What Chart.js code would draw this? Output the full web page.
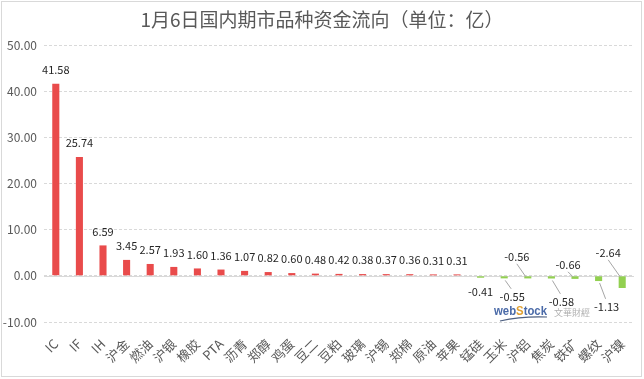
<!DOCTYPE html>
<html>
<head>
<meta charset="utf-8">
<script src="https://cdn.jsdelivr.net/npm/chart.js@4/dist/chart.umd.min.js"></script>
<style>
  html, body { margin: 0; padding: 0; background: #fff; }
  #wrap { width: 644px; height: 379px; position: relative; }
</style>
</head>
<body>
<div id="wrap"><canvas id="c" width="644" height="379"></canvas></div>
<script>
// ---- data ----
const titleText = '1月6日国内期市品种资金流向（单位：亿）';
const categories = ['IC','IF','IH','沪金','燃油','沪银','橡胶','PTA','沥青','郑醇','鸡蛋','豆二','豆粕','玻璃','沪锡','郑棉','原油','苹果','锰硅','玉米','沪铝','焦炭','铁矿','螺纹','沪镍'];
const values = [41.58,25.74,6.59,3.45,2.57,1.93,1.60,1.36,1.07,0.82,0.60,0.48,0.42,0.38,0.37,0.36,0.31,0.31,-0.41,-0.55,-0.56,-0.58,-0.66,-1.13,-2.64];
const yMin = -10, yMax = 50, yStep = 10;

// ---- style ----
const FONT = '"Noto Sans CJK SC", "Microsoft YaHei", sans-serif';
const RED = '#E94B4B', GREEN = '#92D050';
// placement of negative-value labels relative to the zero line (style only)
const negPlacement = {
  18: {dx: 0,   dy: 16,  leader: false},
  19: {dx: 8,   dy: 21,  leader: true},
  20: {dx: -11, dy: -19, leader: true},
  21: {dx: 10,  dy: 26,  leader: true},
  22: {dx: -7,  dy: -11, leader: true},
  23: {dx: 8,   dy: 31,  leader: true},
  24: {dx: -14, dy: -23, leader: true}
};

const framePlugin = {
  id: 'frame',
  beforeDraw(chart) {
    const ctx = chart.ctx;
    ctx.save();
    ctx.fillStyle = '#fff';
    ctx.fillRect(0, 0, chart.width, chart.height);
    ctx.strokeStyle = '#d9d9d9';
    ctx.lineWidth = 1;
    ctx.strokeRect(1.5, 1.5, 640, 375);
    ctx.fillStyle = '#595959';
    ctx.font = '19px ' + FONT;
    ctx.textAlign = 'center';
    ctx.textBaseline = 'middle';
    ctx.fillText(titleText, 322, 20);
    ctx.restore();
  },
  beforeDatasetsDraw(chart) {
    const ctx = chart.ctx, a = chart.chartArea;
    const y0 = Math.round(chart.scales.y.getPixelForValue(0)) + 0.5;
    ctx.save();
    ctx.strokeStyle = '#d9d9d9';
    ctx.lineWidth = 1;
    ctx.beginPath();
    ctx.moveTo(a.left, y0);
    ctx.lineTo(a.right, y0);
    ctx.stroke();
    // watermark
    ctx.textBaseline = 'alphabetic';
    ctx.textAlign = 'left';
    ctx.font = 'bold 13px "Liberation Sans", sans-serif';
    const parts = [['web', '#4a6aa8'], ['S', '#e0a030'], ['tock', '#4a6aa8']];
    const total = parts.reduce((s, p) => s + ctx.measureText(p[0]).width, 0);
    const sx = 53 / total;
    ctx.translate(494, 315);
    ctx.scale(sx, 1);
    let x = 0;
    parts.forEach(p => {
      ctx.fillStyle = p[1];
      ctx.fillText(p[0], x, 0);
      x += ctx.measureText(p[0]).width;
    });
    ctx.setTransform(1, 0, 0, 1, 0, 0);
    ctx.strokeStyle = '#4d5f80';
    ctx.lineWidth = 1.2;
    ctx.beginPath();
    ctx.moveTo(500, 321);
    ctx.quadraticCurveTo(522, 316, 547, 317);
    ctx.stroke();
    ctx.fillStyle = '#b0b0b0';
    ctx.font = '9px ' + FONT;
    ctx.fillText('文華財經', 554, 316);
    ctx.restore();
  },
  afterDatasetsDraw(chart) {
    const ctx = chart.ctx;
    const meta = chart.getDatasetMeta(0);
    const y0 = chart.scales.y.getPixelForValue(0);
    ctx.save();
    ctx.font = '11px ' + FONT;
    ctx.fillStyle = '#262626';
    ctx.textAlign = 'center';
    ctx.textBaseline = 'middle';
    meta.data.forEach((bar, i) => {
      const v = values[i];
      const txt = v.toFixed(2);
      if (v >= 0) {
        ctx.fillText(txt, bar.x, bar.y - 14);
        return;
      }
      const p = negPlacement[i] || {dx: 0, dy: 16, leader: false};
      const lx = bar.x + p.dx, ly = y0 + p.dy;
      if (p.leader) {
        ctx.strokeStyle = '#a6a6a6';
        ctx.lineWidth = 1;
        ctx.beginPath();
        if (p.dy > 0) {
          ctx.moveTo(bar.x + 1, bar.y + 2);
          ctx.lineTo(lx - 1, ly - 8);
        } else {
          ctx.moveTo(lx, ly + 7);
          ctx.lineTo(bar.x - 2, y0 + 1);
        }
        ctx.stroke();
      }
      ctx.fillText(txt, lx, ly);
    });
    ctx.restore();
  }
};

new Chart(document.getElementById('c'), {
  type: 'bar',
  data: {
    labels: categories,
    datasets: [{
      data: values,
      backgroundColor: values.map(v => v >= 0 ? RED : GREEN),
      borderWidth: 0,
      categoryPercentage: 1,
      barPercentage: 0.3
    }]
  },
  options: {
    responsive: false,
    animation: false,
    devicePixelRatio: 1,
    layout: { padding: { top: 45, left: 0, right: 10, bottom: 0 } },
    plugins: { legend: { display: false }, tooltip: { enabled: false }, title: { display: false } },
    scales: {
      x: {
        grid: { display: false },
        border: { display: false },
        ticks: {
          minRotation: 45, maxRotation: 45, autoSkip: false,
          color: '#595959', padding: 6,
          font: { family: FONT, size: 13 }
        },
        afterFit(s) { s.height = 57; }
      },
      y: {
        min: yMin, max: yMax,
        grid: { color: '#d9d9d9', drawTicks: false, lineWidth: 1 },
        border: { display: false, dash: [3, 2] },
        ticks: {
          stepSize: yStep, color: '#595959', padding: 7,
          font: { family: FONT, size: 12 },
          callback: v => Number(v).toFixed(2)
        },
        afterFit(s) { s.width = 44; }
      }
    }
  },
  plugins: [framePlugin]
});
</script>
</body>
</html>
